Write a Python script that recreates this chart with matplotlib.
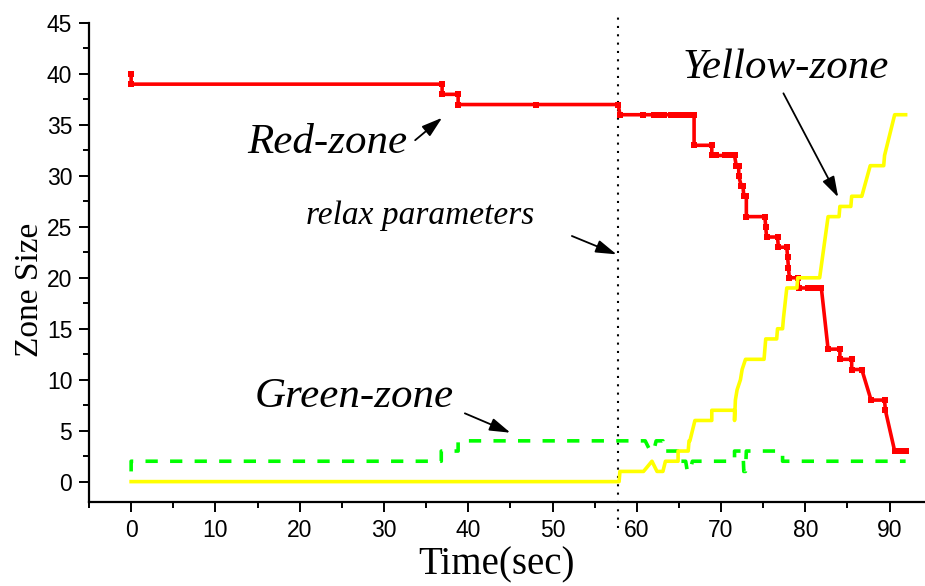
import matplotlib
matplotlib.use("Agg")
import matplotlib.pyplot as plt
from matplotlib.ticker import MultipleLocator

# Zone sizes over time (seconds)
red_t = [0, 0, 36.9, 36.9, 38.8, 38.8, 48.0, 57.8, 58.0, 60.7, 62.0, 62.6, 63.2, 64.1, 64.8,
         65.5, 66.1, 66.8, 66.8, 68.9, 68.9, 69.4, 70.5, 71.0, 71.6, 71.8, 72.1, 72.1, 72.4,
         72.6, 72.7, 73.0, 73.0, 75.2, 75.3, 75.4, 76.7, 76.8, 77.8, 77.9, 78.0, 78.1, 79.1,
         79.2, 80.3, 80.8, 81.3, 81.9, 82.7, 84.1, 84.1, 85.5, 85.5, 86.7, 87.8, 89.4, 89.5,
         90.6, 91.2, 91.9]
red_v = [40, 39, 39, 38, 38, 37, 37, 37, 36, 36, 36, 36, 36, 36, 36,
         36, 36, 36, 33, 33, 32, 32, 32, 32, 32, 31, 31, 30, 29,
         29, 28, 28, 26, 26, 25, 24, 24, 23, 23, 22, 21, 20, 20,
         19, 19, 19, 19, 19, 13, 13, 12, 12, 11, 11, 8, 8, 7,
         3, 3, 3]

yellow_t = [0, 57.9, 58.0, 60.8, 61.8, 62.4, 63.1, 63.4, 64.9, 64.9, 66.1, 66.2, 66.3, 66.9,
            68.9, 68.9, 71.6, 71.6, 71.7, 71.9, 72.3, 72.5, 72.9, 75.1, 75.3, 76.6, 76.7, 77.3,
            77.4, 77.8, 79.0, 79.1, 81.7, 82.7, 84.0, 84.1, 85.4, 85.5, 86.7, 87.7, 89.3, 89.4,
            90.6, 91.9]
yellow_v = [0, 0, 1, 1, 2, 1, 1, 2, 2, 3, 3, 4, 4, 6,
            6, 7, 7, 6, 8, 9, 10, 11, 12, 12, 14, 14, 15, 15,
            16, 19, 19, 20, 20, 26, 26, 27, 27, 28, 28, 31, 31, 32,
            36, 36]

green_t = [0, 0, 36.8, 36.8, 38.8, 38.8, 61.0, 61.6, 62.0, 62.3, 63.1, 63.2, 64.9, 65.0,
           65.8, 66.0, 66.3, 66.6, 71.6, 71.6, 72.6, 72.7, 72.9, 73.0, 77.3, 77.3, 91.9]
green_v = [1, 2, 2, 3, 3, 4, 4, 3, 3, 4, 4, 3, 3, 2,
           2, 1, 1, 2, 2, 3, 3, 1, 1, 3, 3, 2, 2]

relax_time = 57.8

x_ticks = [0, 10, 20, 30, 40, 50, 60, 70, 80, 90]
y_ticks = [0, 5, 10, 15, 20, 25, 30, 35, 40, 45]

fig = plt.figure(figsize=(9.25, 5.86), dpi=100)
ax = fig.add_axes([89 / 925, 84 / 586, 836 / 925, 479 / 586])

ax.plot(red_t, red_v, color="#FF0000", lw=2.6, marker="s", markersize=4.2,
        markeredgewidth=0, zorder=3)
ax.plot(green_t, green_v, color="#00FF00", lw=2.6, dashes=(3.4, 3.4), zorder=4)
ax.plot(yellow_t, yellow_v, color="#FFFF00", lw=2.6, zorder=5)

ax.plot([relax_time, relax_time], [-4.6, 46.1], color="black", lw=1.5,
        linestyle=(0, (1, 3)), clip_on=False, zorder=2)

ax.set_xlim(-5, 94.2)
ax.set_ylim(-2, 45)
ax.set_xticks(x_ticks)
ax.set_yticks(y_ticks)
ax.xaxis.set_minor_locator(MultipleLocator(5))
ax.yaxis.set_minor_locator(MultipleLocator(2.5))

for side in ("top", "right"):
    ax.spines[side].set_visible(False)
for side in ("left", "bottom"):
    ax.spines[side].set_linewidth(1.6)

ax.tick_params(which="major", direction="out", length=7, width=1.4,
               labelsize=16.5, pad=5)
ax.tick_params(which="minor", direction="out", length=4, width=1.4)
for lab in ax.get_xticklabels() + ax.get_yticklabels():
    lab.set_fontfamily("Liberation Sans")

ax.set_xlabel("Time(sec)", fontfamily="Liberation Serif", fontsize=28, va="center")
ax.xaxis.set_label_coords(0.488, -0.131)
ax.set_ylabel("Zone Size", fontfamily="Liberation Serif", fontsize=24, va="center")
ax.yaxis.set_label_coords(-0.071, 0.443)

note_font = dict(fontfamily="Liberation Serif", style="italic", color="black")
ax.text(13.8, 32.2, "Red-zone", fontsize=31, ha="left", va="baseline", **note_font)
ax.text(65.4, 39.6, "Yellow-zone", fontsize=31, ha="left", va="baseline", **note_font)
ax.text(14.6, 7.3, "Green-zone", fontsize=31, ha="left", va="baseline", **note_font)
ax.text(20.8, 25.3, "relax parameters", fontsize=24, ha="left", va="baseline", **note_font)

arrow_style = dict(arrowstyle="-|>,head_length=0.9,head_width=0.28",
                   color="black", lw=1.3, mutation_scale=14, shrinkA=0, shrinkB=0)
for tail, head in [((33.7, 33.5), (36.9, 35.7)),
                   ((52.3, 24.1), (57.6, 22.3)),
                   ((77.4, 38.1), (83.9, 27.9)),
                   ((39.6, 6.7), (45.0, 4.8))]:
    ax.annotate("", xy=head, xytext=tail, arrowprops=arrow_style)

fig.savefig("out.png", dpi=100)
